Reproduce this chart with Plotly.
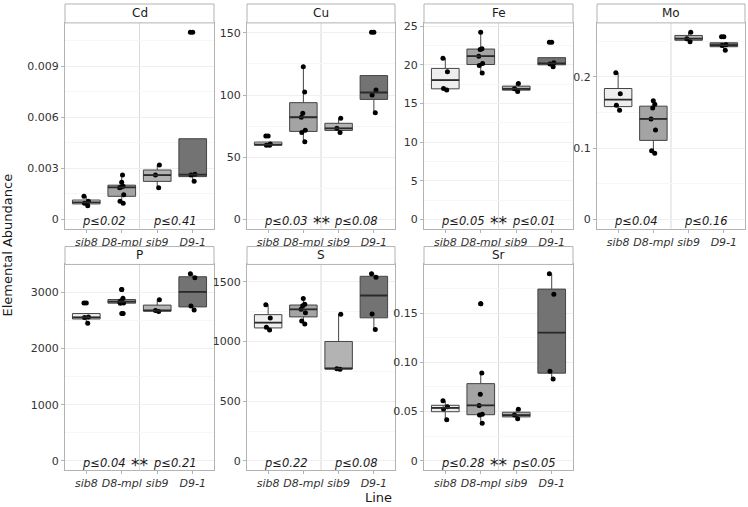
import numpy as np
import plotly.graph_objects as go

# ---------------- data ----------------
groups = ["sib8", "D8-mpl", "sib9", "D9-1"]
elements = ["Cd", "Cu", "Fe", "Mo", "P", "S", "Sr"]

cd = [[0.00135, 0.00106, 0.00094, 0.0008],
      [0.0026, 0.00218, 0.00195, 0.0019, 0.00186, 0.00145, 0.00106, 0.00094],
      [0.0032, 0.0026, 0.00186],
      [0.011, 0.00265, 0.0026, 0.00224]]
cu = [[67.1, 60.5, 59.6, 59.6],
      [122.7, 102.4, 85.3, 82.1, 71.6, 69.8, 62.3],
      [81.3, 73.2, 69.8],
      [150.5, 104.0, 100.0, 85.8]]
fe = [[20.87, 19.1, 16.95, 16.74],
      [24.23, 22.1, 22.0, 21.13, 20.18, 19.92, 18.94],
      [17.6, 16.9, 16.56],
      [22.94, 20.27, 20.1, 19.75]]
mo = [[0.2056, 0.1762, 0.1599, 0.1529],
      [0.1664, 0.1613, 0.1562, 0.1408, 0.1254, 0.0961, 0.0928],
      [0.2625, 0.2535, 0.2490],
      [0.2563, 0.2448, 0.2438, 0.2373]]
p_el = [[2812, 2560, 2552, 2451],
        [3053, 2895, 2850, 2835, 2812, 2805, 2623],
        [2871, 2676, 2658],
        [3331, 3261, 2759, 2688]]
s_el = [[1308, 1197, 1119, 1097],
        [1361, 1311, 1300, 1269, 1240, 1172, 1147],
        [1228, 772, 767],
        [1567, 1539, 1231, 1100]]
sr = [[0.061, 0.0549, 0.0526, 0.0418],
      [0.1595, 0.0893, 0.0675, 0.0563, 0.0472, 0.0465, 0.0381],
      [0.0523, 0.0465, 0.0428],
      [0.1899, 0.1692, 0.091, 0.0832]]
values = [cd, cu, fe, mo, p_el, s_el, sr]

p_left = ["p≤0.02", "p≤0.03", "p≤0.05", "p≤0.04", "p≤0.04", "p≤0.22", "p≤0.28"]
p_right = ["p≤0.41", "p≤0.08", "p≤0.01", "p≤0.16", "p≤0.21", "p≤0.08", "p≤0.05"]
stars = [False, True, True, False, True, False, True]

ytick_vals = [[0, 0.003, 0.006, 0.009], [0, 50, 100, 150], [0, 5, 10, 15, 20, 25],
              [0, 0.1, 0.2], [0, 1000, 2000, 3000], [0, 500, 1000, 1500],
              [0, 0.05, 0.10, 0.15]]
ytick_text = [["0", "0.003", "0.006", "0.009"], ["0", "50", "100", "150"],
              ["0", "5", "10", "15", "20", "25"], ["0", "0.1", "0.2"],
              ["0", "1000", "2000", "3000"], ["0", "500", "1000", "1500"],
              ["0", "0.05", "0.10", "0.15"]]

# ---------------- style / layout ----------------
fills = ["#EEEEEE", "#A4A4A4", "#B3B3B3", "#737373"]
W, H = 748, 507
cols_px = [(65, 214), (247, 395), (424, 573), (597, 745)]
rows_px = [(20, 227), (263, 470)]
strip_px = [(1, 20), (245, 263)]
FONT = "DejaVu Sans"
BOXW = 0.78

fig = go.Figure()
layout = dict(width=W, height=H, margin=dict(l=0, r=0, t=0, b=0),
              paper_bgcolor="white", plot_bgcolor="white",
              showlegend=False, boxmode="overlay",
              font=dict(family=FONT, color="#333333"))
shapes, annotations = [], []

for k, el in enumerate(elements):
    r, c = divmod(k, 4)
    i = k + 1
    sfx = "" if i == 1 else str(i)
    xref, yref = "x" + sfx, "y" + sfx
    x0p, x1p = cols_px[c]
    y0p, y1p = rows_px[r]
    xdom = [x0p / W, x1p / W]
    ydom = [1 - y1p / H, 1 - y0p / H]

    allv = np.concatenate([np.asarray(v, float) for v in values[k]])
    lo, hi = min(0.0, allv.min()), allv.max()
    span = hi - lo
    yr = [lo - 0.05 * span, hi + 0.05 * span]
    step = ytick_vals[k][1] - ytick_vals[k][0]

    layout["xaxis" + sfx] = dict(domain=xdom, anchor=yref, range=[0.4, 4.6],
                                 tickmode="array", tickvals=[1, 2, 3, 4],
                                 ticktext=["<i>%s</i>" % g for g in groups],
                                 showgrid=False, zeroline=False,
                                 showline=True, mirror=True, linecolor="#B3B3B3", linewidth=1,
                                 ticks="outside", ticklen=3, tickcolor="#B3B3B3",
                                 tickfont=dict(size=11, color="#333333", family=FONT))
    layout["yaxis" + sfx] = dict(domain=ydom, anchor=xref, range=yr,
                                 tickmode="array", tickvals=ytick_vals[k], ticktext=ytick_text[k],
                                 showgrid=True, gridcolor="#EFEFEF", gridwidth=1,
                                 minor=dict(dtick=step / 2, tick0=0, showgrid=True,
                                            gridcolor="#F7F7F7", gridwidth=1),
                                 zeroline=False,
                                 showline=True, mirror=True, linecolor="#B3B3B3", linewidth=1,
                                 ticks="outside", ticklen=3, tickcolor="#B3B3B3",
                                 tickfont=dict(size=11, color="#333333", family=FONT))

    # separator between the two comparisons
    shapes.append(dict(type="line", xref=xref, yref=yref + " domain", x0=2.5, x1=2.5,
                       y0=0, y1=1, line=dict(color="#D9D9D9", width=1), layer="below"))

    for g in range(4):
        d = np.asarray(values[k][g], float)
        q1, med, q3 = np.percentile(d, [25, 50, 75])
        iqr = q3 - q1
        inside = d[(d >= q1 - 1.5 * iqr) & (d <= q3 + 1.5 * iqr)]
        outl = d[(d < q1 - 1.5 * iqr) | (d > q3 + 1.5 * iqr)]
        fig.add_trace(go.Box(x=[g + 1], q1=[q1], median=[med], q3=[q3],
                             lowerfence=[inside.min()], upperfence=[inside.max()],
                             width=BOXW, fillcolor=fills[g], whiskerwidth=0,
                             line=dict(color="#444444", width=1), boxpoints=False,
                             xaxis=xref, yaxis=yref, hoverinfo="skip"))
        # thicker median line (ggplot fatten)
        fig.add_trace(go.Scatter(x=[g + 1 - BOXW / 2, g + 1 + BOXW / 2], y=[med, med],
                                 mode="lines", line=dict(color="#2A2A2A", width=1.8),
                                 xaxis=xref, yaxis=yref, hoverinfo="skip"))
        if len(outl):
            fig.add_trace(go.Scatter(x=[g + 1] * len(outl), y=outl, mode="markers",
                                     marker=dict(color="black", size=5),
                                     xaxis=xref, yaxis=yref, hoverinfo="skip"))
        fig.add_trace(go.Box(x=[g + 1] * len(d), y=d, boxpoints="all", jitter=0.2,
                             pointpos=0, width=BOXW, fillcolor="rgba(0,0,0,0)",
                             line=dict(color="rgba(0,0,0,0)", width=0),
                             marker=dict(color="black", size=5),
                             xaxis=xref, yaxis=yref, hoverinfo="skip"))

    # p-value labels and significance stars
    for xpos, txt in ((1.5, p_left[k]), (3.5, p_right[k])):
        annotations.append(dict(x=xpos, y=0, xref=xref, yref=yref, text="<i>%s</i>" % txt,
                                showarrow=False, yanchor="middle", yshift=-2,
                                font=dict(size=11.5, color="#1A1A1A", family=FONT)))
    if stars[k]:
        annotations.append(dict(x=2.5, y=0, xref=xref, yref=yref, text="**",
                                showarrow=False, yanchor="middle", yshift=-4,
                                font=dict(size=17, color="#1A1A1A", family=FONT)))

    # facet strip
    s0, s1 = strip_px[r]
    shapes.append(dict(type="rect", xref="paper", yref="paper",
                       x0=x0p / W, x1=x1p / W, y0=1 - s1 / H, y1=1 - s0 / H,
                       fillcolor="white", line=dict(color="#B3B3B3", width=1)))
    annotations.append(dict(x=(x0p + x1p) / 2 / W, y=1 - (s0 + s1) / 2 / H,
                            xref="paper", yref="paper", text=el, showarrow=False,
                            xanchor="center", yanchor="middle",
                            font=dict(size=12, color="#1A1A1A", family=FONT)))

annotations.append(dict(x=8 / W, y=1 - 244 / H, xref="paper", yref="paper",
                        text="Elemental Abundance", textangle=-90, showarrow=False,
                        xanchor="center", yanchor="middle",
                        font=dict(size=13, color="#1A1A1A", family=FONT)))
annotations.append(dict(x=378 / W, y=1 - 497 / H, xref="paper", yref="paper",
                        text="Line", showarrow=False, xanchor="center", yanchor="middle",
                        font=dict(size=13, color="#1A1A1A", family=FONT)))

layout["shapes"] = shapes
layout["annotations"] = annotations
fig.update_layout(**layout)
fig.write_html("out.html", config={"displayModeBar": False},
               post_script="document.body.style.margin='0px';")
